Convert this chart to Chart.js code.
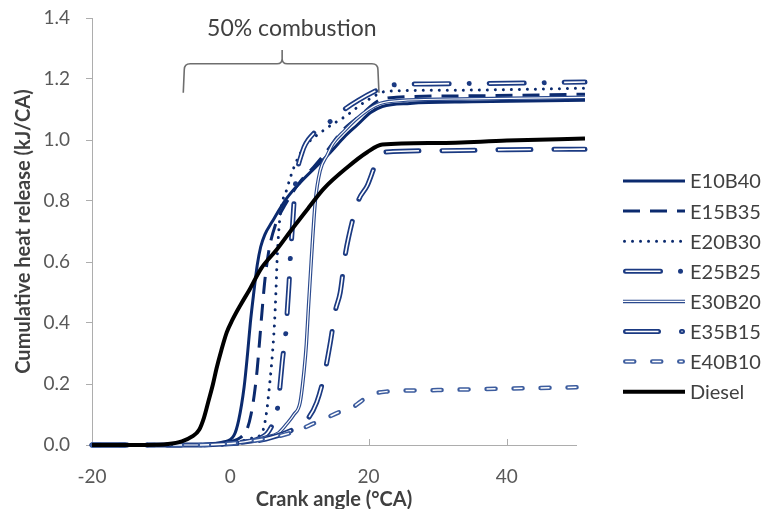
<!DOCTYPE html>
<html><head><meta charset="utf-8">
<script src="https://cdn.jsdelivr.net/npm/chart.js@4"></script>
<style>html,body{margin:0;padding:0;background:#fff}canvas{display:block}</style>
</head><body>
<canvas id="c" width="763" height="509"></canvas>
<script>
// ---------- data ----------
const seriesNames = ['E10B40','E15B35','E20B30','E25B25','E30B20','E35B15','E40B10','Diesel'];
const xTickValues = [-20, 0, 20, 40];
const yTickValues = [0, 0.2, 0.4, 0.6, 0.8, 1.0, 1.2, 1.4];

const e10b40X = [-20,-6,-3,-1,0.5,1.2,2.0,2.5,2.9,3.4,3.9,4.4,5.0,6.0,8.2,10.1,12.3,14.5,16.5,18.4,20.3,22,26,35,51.3];
const e10b40Y = [0,0,0.003,0.01,0.03,0.08,0.19,0.3,0.4,0.5,0.59,0.65,0.69,0.73,0.81,0.86,0.91,0.96,1.01,1.05,1.09,1.11,1.12,1.125,1.13];

const e15b35X = [-20,-5,-2,0,1.5,2.4,3.0,3.5,3.9,4.2,4.6,5.0,5.6,6.5,8,10,12,13.5,16.2,18.8,21.5,24,35,51.3];
const e15b35Y = [0,0,0.003,0.01,0.025,0.05,0.1,0.17,0.25,0.33,0.44,0.54,0.64,0.72,0.79,0.86,0.91,0.95,1.03,1.08,1.13,1.14,1.145,1.15];

const e20b30X = [-20,-5,-2,0,2,3.5,4.6,5.2,5.7,6.1,6.4,6.6,6.8,7.2,8.2,9.2,10.5,13.4,16.8,19.8,22.7,30,40,51.3];
const e20b30Y = [0,0,0.003,0.008,0.015,0.025,0.04,0.1,0.2,0.3,0.4,0.5,0.62,0.75,0.84,0.91,0.97,1.03,1.08,1.13,1.16,1.163,1.165,1.17];

const e25b25X = [-20,-5,-1,2,4,5.7,6.9,7.3,7.6,8.0,8.3,8.5,8.7,9.0,9.4,10.4,12,14.4,16.5,18.5,20.9,23,35,51.3];
const e25b25Y = [0,0,0.003,0.01,0.02,0.05,0.13,0.22,0.29,0.36,0.46,0.53,0.62,0.72,0.85,0.96,1.02,1.06,1.1,1.13,1.16,1.18,1.185,1.19];

const e30b20X = [-20,-5,-1,2,5,7,8.2,9.2,10.1,10.7,11.0,11.3,11.7,12.3,13,14,14.9,16.5,18.3,20,21.7,25,35,51.3];
const e30b20Y = [0,0,0.003,0.01,0.025,0.04,0.07,0.1,0.14,0.25,0.33,0.45,0.6,0.8,0.9,0.95,0.99,1.03,1.07,1.1,1.12,1.13,1.135,1.14];

const e35b15X = [-20,-5,-1,3,6,9,11,12.5,13.5,14.5,15.2,15.9,16.6,17.1,18.5,19.8,21.2,22.3,30,40,51.3];
const e35b15Y = [0,0,0.003,0.01,0.025,0.05,0.08,0.14,0.22,0.34,0.44,0.5,0.62,0.68,0.8,0.85,0.93,0.96,0.965,0.968,0.97];

const e40b10X = [-20,-5,-1,2,5,8,10,12,14,16,17.6,19,20.8,22.5,30,40,51.3];
const e40b10Y = [0,0,0.003,0.01,0.02,0.035,0.05,0.07,0.09,0.11,0.122,0.145,0.168,0.175,0.18,0.185,0.19];

const dieselX = [-20,-12,-9,-7,-5.5,-4.5,-3.8,-3.2,-2.5,-2,-1.3,-0.5,0.3,1.5,2.8,4.5,6.7,9,11.4,13.5,16.9,19.8,22,30,40,51.3];
const dieselY = [0,0,0.003,0.012,0.028,0.05,0.09,0.14,0.2,0.25,0.31,0.37,0.41,0.46,0.51,0.58,0.64,0.71,0.78,0.84,0.91,0.96,0.985,0.99,0.998,1.005];

const seriesX = [e10b40X, e15b35X, e20b30X, e25b25X, e30b20X, e35b15X, e40b10X, dieselX];
const seriesY = [e10b40Y, e15b35Y, e20b30Y, e25b25Y, e30b20Y, e35b15Y, e40b10Y, dieselY];

// ---------- styles ----------
const NAVY = '#0B2A6E', NAVY2 = '#1B3A82', NAVY3 = '#2B4A8E', NAVY4 = '#3C5C9E';
const styles = [
  {color: NAVY,  width: 3,   dash: [],            cap: 'butt'},
  {color: NAVY,  width: 3,   dash: [17, 10],      cap: 'butt'},
  {color: NAVY,  width: 3,   dash: [0.01, 8],     cap: 'round'},
  {color: NAVY2, width: 5,   dash: [35, 20, 0.01, 20], cap: 'round', inner: {width: 1.6, dash: [35, 40]}},
  {color: NAVY3, width: 3.5, dash: [],            cap: 'butt',  inner: {width: 1.2, dash: []}},
  {color: NAVY2, width: 5,   dash: [33, 23],      cap: 'round', inner: {width: 1.6, dash: [33, 23]}},
  {color: NAVY4, width: 4.5, dash: [9, 18],       cap: 'round', inner: {width: 1.5, dash: [9, 18]}},
  {color: '#000000', width: 4, dash: [],          cap: 'butt'}
];
const FONT = 'Lato';
const AXIS_COLOR = '#ADADAD';
const TEXT_COLOR = '#404040';

// ---------- datasets ----------
const datasets = [];
seriesNames.forEach((name, i) => {
  const pts = seriesX[i].map((x, j) => ({x: x, y: seriesY[i][j]}));
  const s = styles[i];
  const n = seriesNames.length;
  datasets.push({
    label: name, data: pts, borderColor: s.color, borderWidth: s.width,
    borderDash: s.dash, borderCapStyle: s.cap, borderJoinStyle: 'round',
    pointRadius: 0, pointHoverRadius: 0, fill: false, clip: false,
    cubicInterpolationMode: 'monotone', order: (n - i) * 2
  });
  if (s.inner) {
    datasets.push({
      label: name + ' (inner)', data: pts, borderColor: '#FFFFFF', borderWidth: s.inner.width,
      borderDash: s.inner.dash, borderCapStyle: 'butt', borderJoinStyle: 'round',
      pointRadius: 0, pointHoverRadius: 0, fill: false, clip: false,
      cubicInterpolationMode: 'monotone', order: (n - i) * 2 - 1
    });
  }
});

function strokeSample(ctx, x0, x1, y, color, width, dash, cap) {
  ctx.save();
  ctx.strokeStyle = color; ctx.lineWidth = width; ctx.setLineDash(dash); ctx.lineCap = cap;
  const off = cap === 'round' ? width / 2 : 0;
  ctx.beginPath(); ctx.moveTo(x0 + off, y); ctx.lineTo(x1 - off, y); ctx.stroke();
  ctx.restore();
}

const extras = {
  id: 'extras',
  beforeDatasetsDraw(chart) {
    const {ctx, scales: {x, y}} = chart;
    ctx.save();
    ctx.strokeStyle = AXIS_COLOR; ctx.lineWidth = 1;
    xTickValues.forEach(v => {
      if (v === x.min) return;
      const px = Math.round(x.getPixelForValue(v)) + 0.5;
      const py = y.getPixelForValue(0);
      ctx.beginPath(); ctx.moveTo(px, py); ctx.lineTo(px, py - 6); ctx.stroke();
    });
    ctx.restore();
  },
  afterDatasetsDraw(chart) {
    const {ctx, scales: {x, y}} = chart;
    // brace "50% combustion"
    const xl = x.getPixelForValue(-6.8), xr = x.getPixelForValue(21.5), xm = x.getPixelForValue(7.5);
    const ye = y.getPixelForValue(1.155), yb = y.getPixelForValue(1.25), yt = y.getPixelForValue(1.295);
    const r = 6;
    ctx.save();
    ctx.strokeStyle = '#6E6E6E'; ctx.lineWidth = 1.6; ctx.lineJoin = 'round';
    ctx.beginPath();
    ctx.moveTo(xl, ye);
    ctx.lineTo(xl + 1, yb + r);
    ctx.quadraticCurveTo(xl + 1, yb, xl + 1 + r, yb);
    ctx.lineTo(xm - 5, yb);
    ctx.quadraticCurveTo(xm, yb, xm, yb - 5);
    ctx.lineTo(xm, yt);
    ctx.moveTo(xm, yb - 5);
    ctx.quadraticCurveTo(xm, yb, xm + 5, yb);
    ctx.lineTo(xr - 1 - r, yb);
    ctx.quadraticCurveTo(xr - 1, yb, xr - 1, yb + r);
    ctx.lineTo(xr, ye);
    ctx.stroke();
    ctx.fillStyle = TEXT_COLOR;
    ctx.font = '23px ' + FONT;
    ctx.textAlign = 'center'; ctx.textBaseline = 'middle';
    ctx.fillText('50% combustion', x.getPixelForValue(8.9), y.getPixelForValue(1.366));
    ctx.restore();
  },
  afterDraw(chart) {
    const ctx = chart.ctx;
    const lx0 = 623, lx1 = 685, ly0 = 181, lstep = 30.1;
    ctx.save();
    ctx.font = '20px ' + FONT;
    ctx.fillStyle = TEXT_COLOR;
    ctx.textAlign = 'left'; ctx.textBaseline = 'middle';
    seriesNames.forEach((name, i) => {
      const s = styles[i];
      const yy = ly0 + i * lstep;
      strokeSample(ctx, lx0, lx1, yy, s.color, s.width, s.dash, s.cap);
      if (s.inner) {
        const off = s.cap === 'round' ? s.width / 2 : 0;
        strokeSample(ctx, lx0 + off, lx1 - off, yy, '#FFFFFF', s.inner.width, s.inner.dash, 'butt');
      }
      ctx.fillText(name, 690, yy + 1);
    });
    ctx.restore();
  }
};

new Chart(document.getElementById('c'), {
  type: 'line',
  data: {datasets: datasets},
  plugins: [extras],
  options: {
    responsive: false, animation: false, devicePixelRatio: 1,
    layout: {padding: {left: 0, top: 18, right: 187, bottom: 0}},
    plugins: {legend: {display: false}, tooltip: {enabled: false}},
    scales: {
      x: {
        type: 'linear', min: -20, max: 50,
        afterBuildTicks: s => { s.ticks = xTickValues.map(v => ({value: v})); },
        afterFit: s => { s.height = 64; s.paddingLeft = 10; s.paddingRight = 10; },
        grid: {display: false},
        border: {display: true, color: AXIS_COLOR, width: 1},
        ticks: {padding: 12, autoSkip: false, color: '#595959', font: {family: FONT, size: 19}, maxRotation: 0},
        title: {display: true, text: 'Crank angle (°CA)', color: TEXT_COLOR,
                font: {family: FONT, size: 20, weight: 'bold'}, padding: {top: 0, bottom: -3}}
      },
      y: {
        min: 0, max: 1.4,
        afterBuildTicks: s => { s.ticks = yTickValues.map(v => ({value: v})); },
        afterFit: s => { s.width = 92; s.paddingTop = 10; s.paddingBottom = 10; },
        grid: {display: true, drawOnChartArea: false, drawTicks: true, tickLength: 6, color: AXIS_COLOR},
        border: {display: true, color: AXIS_COLOR, width: 1},
        ticks: {padding: 16, autoSkip: false, color: '#595959', font: {family: FONT, size: 19}, callback: v => Number(v).toFixed(1)},
        title: {display: true, text: 'Cumulative heat release (kJ/CA)', color: TEXT_COLOR,
                font: {family: FONT, size: 20, weight: 'bold'}, padding: {top: 12, bottom: 0}}
      }
    }
  }
});
</script>
</body></html>
